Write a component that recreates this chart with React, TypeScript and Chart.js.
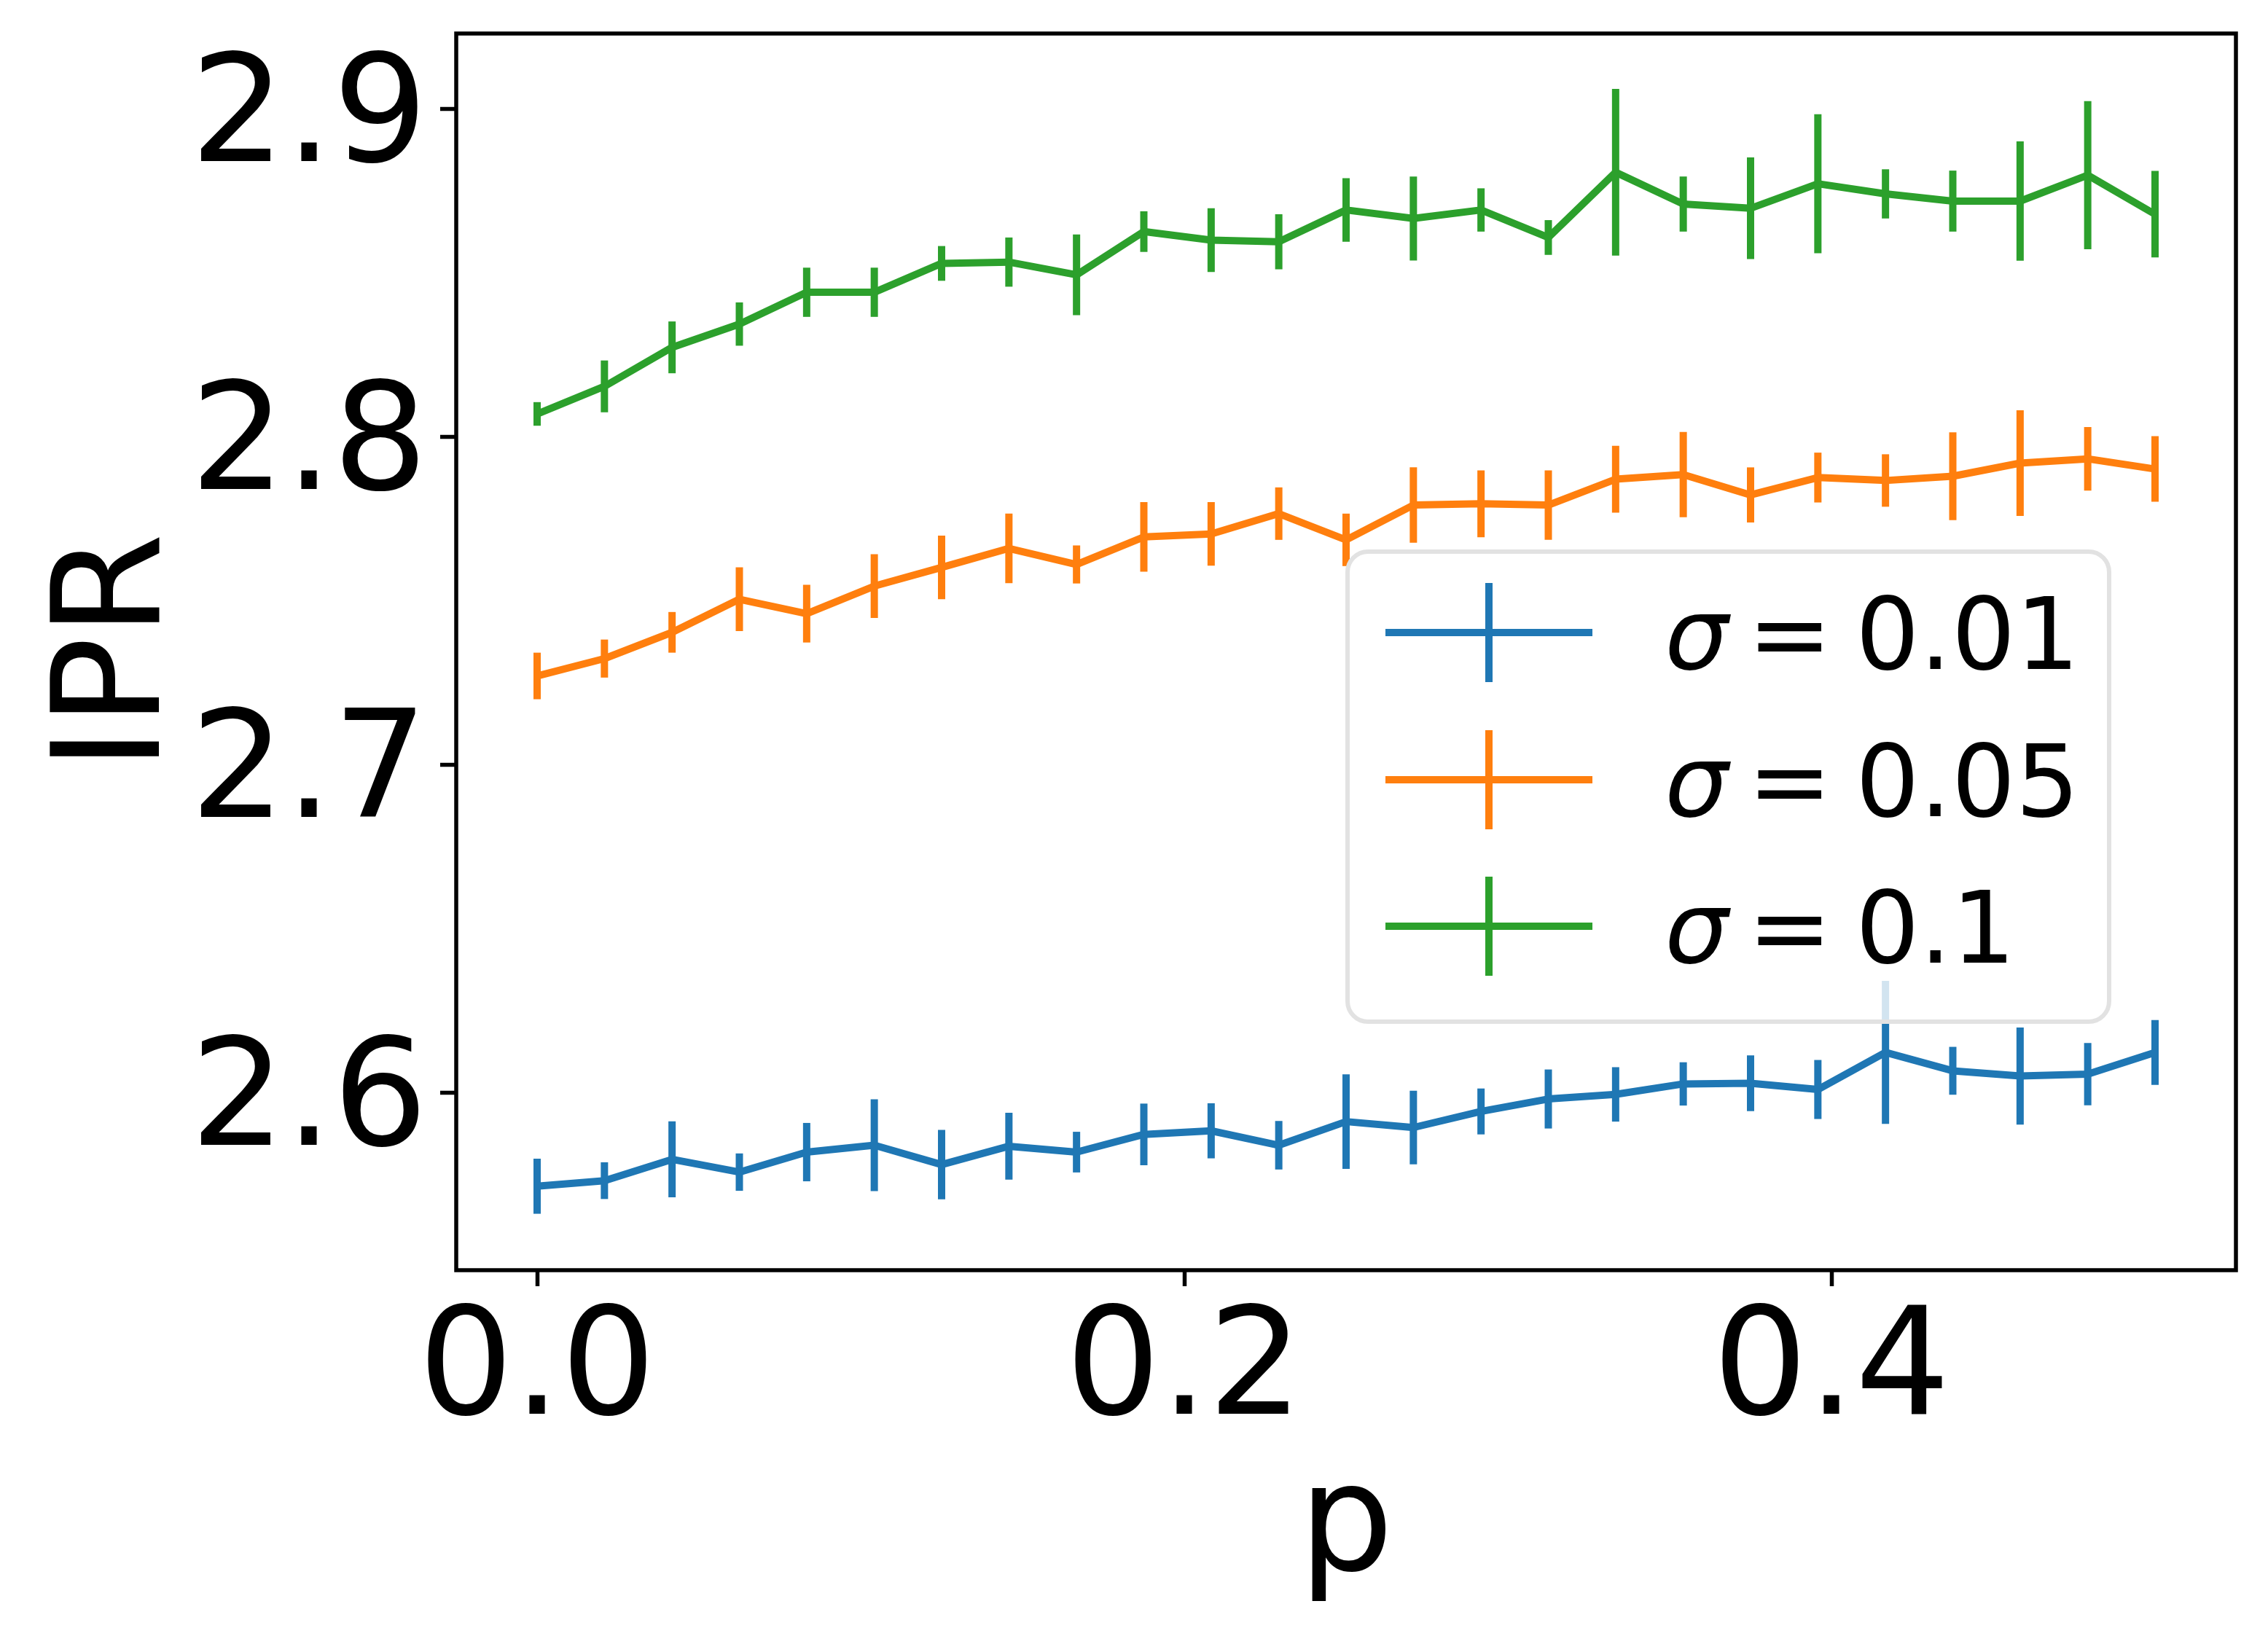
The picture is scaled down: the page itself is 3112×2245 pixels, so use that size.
import React, { useEffect, useRef } from 'react';
import { Chart, registerables } from 'chart.js';

Chart.register(...registerables);

// x values (p)
const pValues = [
  0, 0.0208, 0.0417, 0.0625, 0.0833, 0.1042, 0.125, 0.1458, 0.1667, 0.1875, 0.2083, 0.2292, 0.25,
  0.2708, 0.2917, 0.3125, 0.3333, 0.3542, 0.375, 0.3958, 0.4167, 0.4375, 0.4583, 0.4792, 0.5,
];

// sigma = 0.01
const iprSigma001 = [
  2.5716, 2.5733, 2.5798, 2.5759, 2.582, 2.5841, 2.5782, 2.5838, 2.582, 2.5874, 2.5885, 2.5841, 2.5913,
  2.5895, 2.5944, 2.5982, 2.5996, 2.6028, 2.603, 2.6011, 2.6124, 2.6068, 2.6052, 2.6058, 2.6124,
];
const errSigma001 = [
  0.0084, 0.0056, 0.0116, 0.0057, 0.0089, 0.014, 0.0106, 0.0102, 0.0062, 0.0094, 0.0084, 0.0074, 0.0144,
  0.0112, 0.007, 0.009, 0.0083, 0.0066, 0.0085, 0.009, 0.0218, 0.0073, 0.0148, 0.0095, 0.0099,
];

// sigma = 0.05
const iprSigma005 = [
  2.7272, 2.7325, 2.7405, 2.7506, 2.7462, 2.7546, 2.7603, 2.7661, 2.7612, 2.7696, 2.7705, 2.7767, 2.7687,
  2.7793, 2.7797, 2.7793, 2.7872, 2.7886, 2.7824, 2.7877, 2.7868, 2.7881, 2.7921, 2.7934, 2.7903,
];
const errSigma005 = [
  0.0071, 0.0058, 0.0062, 0.0097, 0.0088, 0.0097, 0.0097, 0.0106, 0.0058, 0.0106, 0.0097, 0.008, 0.008,
  0.0115, 0.0102, 0.0106, 0.0102, 0.013, 0.0084, 0.0076, 0.008, 0.0134, 0.0161, 0.0097, 0.01,
];

// sigma = 0.1
const iprSigma01 = [
  2.8071, 2.8155, 2.8274, 2.8345, 2.8442, 2.8442, 2.853, 2.8534, 2.8495, 2.8627, 2.8601, 2.8596, 2.8693,
  2.8667, 2.8693, 2.8609, 2.8808, 2.8711, 2.8698, 2.8773, 2.8742, 2.872, 2.872, 2.8799, 2.868,
];
const errSigma01 = [
  0.0036, 0.0079, 0.0079, 0.0066, 0.0075, 0.0075, 0.0053, 0.0075, 0.0123, 0.0062, 0.0097, 0.0084, 0.0097,
  0.0128, 0.0066, 0.0053, 0.0254, 0.0084, 0.0155, 0.0212, 0.0075, 0.0093, 0.0182, 0.0226, 0.0132,
];

const seriesLabels = ['0.01', '0.05', '0.1'];
const seriesColors = ['#1f77b4', '#ff7f0e', '#2ca02c'];
const xTicks = [0, 0.2, 0.4];
const yTicks = [2.6, 2.7, 2.8, 2.9];

const FONT = '"DejaVu Sans"';

const errorBarPlugin = {
  id: 'errorBars',
  afterDatasetsDraw(chart: any) {
    const { ctx, scales } = chart;
    ctx.save();
    chart.data.datasets.forEach((ds: any) => {
      ctx.strokeStyle = ds.borderColor;
      ctx.lineWidth = 10;
      ctx.lineCap = 'butt';
      ds.data.forEach((pt: any, i: number) => {
        const e = ds.errors[i];
        const x = scales.x.getPixelForValue(pt.x);
        ctx.beginPath();
        ctx.moveTo(x, scales.y.getPixelForValue(pt.y - e));
        ctx.lineTo(x, scales.y.getPixelForValue(pt.y + e));
        ctx.stroke();
      });
    });
    // axes frame
    const a = chart.chartArea;
    ctx.strokeStyle = '#000';
    ctx.lineWidth = 5.5;
    ctx.strokeRect(a.left, a.top, a.right - a.left, a.bottom - a.top);
    ctx.restore();
  },
};

const legendPlugin = {
  id: 'boxLegend',
  afterDraw(chart: any) {
    const { ctx } = chart;
    const left = 1849, top = 757, right = 2894, bottom = 1402, r = 28;
    ctx.save();
    ctx.beginPath();
    ctx.roundRect(left, top, right - left, bottom - top, r);
    ctx.fillStyle = 'rgba(255,255,255,0.8)';
    ctx.fill();
    ctx.strokeStyle = '#e2e2e2';
    ctx.lineWidth = 6;
    ctx.stroke();

    const rows = [868, 1070, 1271];
    seriesLabels.forEach((lab, i) => {
      const cy = rows[i];
      ctx.strokeStyle = seriesColors[i];
      ctx.lineWidth = 10;
      ctx.lineCap = 'butt';
      ctx.beginPath();
      ctx.moveTo(1901, cy);
      ctx.lineTo(2185, cy);
      ctx.moveTo(2043, cy - 68);
      ctx.lineTo(2043, cy + 68);
      ctx.stroke();

      ctx.fillStyle = '#000';
      ctx.textBaseline = 'alphabetic';
      ctx.textAlign = 'left';
      ctx.font = `italic 138px ${FONT}`;
      ctx.fillText('σ', 2284, cy + 50);
      ctx.font = `138px ${FONT}`;
      ctx.fillText('=', 2398, cy + 50);
      ctx.fillText(lab, 2546, cy + 50);
    });
    ctx.restore();
  },
};

const zeroPadding = (s: any) => {
  s.paddingLeft = 0;
  s.paddingRight = 0;
  s.paddingTop = 0;
  s.paddingBottom = 0;
};

export default function App() {
  const canvasRef = useRef<HTMLCanvasElement>(null);

  useEffect(() => {
    const seriesY = [iprSigma001, iprSigma005, iprSigma01];
    const seriesErr = [errSigma001, errSigma005, errSigma01];

    const chart = new Chart(canvasRef.current as HTMLCanvasElement, {
      type: 'line',
      data: {
        datasets: seriesY.map((vals, s) => ({
          label: `σ = ${seriesLabels[s]}`,
          data: vals.map((v, i) => ({ x: pValues[i], y: v })),
          errors: seriesErr[s],
          borderColor: seriesColors[s],
          backgroundColor: seriesColors[s],
          borderWidth: 10,
          borderJoinStyle: 'round',
          pointRadius: 0,
          tension: 0,
          fill: false,
        })) as any,
      },
      options: {
        animation: false,
        responsive: false,
        devicePixelRatio: 1,
        layout: { padding: { left: 0, top: 46, right: 44, bottom: 0 } },
        plugins: { legend: { display: false }, tooltip: { enabled: false } },
        scales: {
          x: {
            type: 'linear',
            min: -0.025,
            max: 0.525,
            afterBuildTicks: (s: any) => {
              s.ticks = xTicks.map((v) => ({ value: v }));
            },
            afterFit: (s: any) => {
              s.height = 502;
              zeroPadding(s);
            },
            border: { display: false },
            grid: {
              display: true,
              drawOnChartArea: false,
              drawTicks: true,
              tickLength: 22,
              tickWidth: 5.5,
              tickColor: '#000',
            },
            ticks: {
              color: '#000',
              font: { family: FONT, size: 205, lineHeight: 1 },
              padding: 19,
              maxRotation: 0,
              autoSkip: false,
              callback: (v: any) => Number(v).toFixed(1),
            },
            title: {
              display: true,
              text: 'p',
              color: '#000',
              font: { family: FONT, size: 205, lineHeight: 1.2 },
              padding: { top: 0, bottom: 21 },
            },
          },
          y: {
            type: 'linear',
            min: 2.546,
            max: 2.9231,
            afterBuildTicks: (s: any) => {
              s.ticks = yTicks.map((v) => ({ value: v }));
            },
            afterFit: (s: any) => {
              s.width = 626;
              zeroPadding(s);
            },
            border: { display: false },
            grid: {
              display: true,
              drawOnChartArea: false,
              drawTicks: true,
              tickLength: 22,
              tickWidth: 5.5,
              tickColor: '#000',
            },
            ticks: {
              color: '#000',
              font: { family: FONT, size: 205, lineHeight: 1 },
              padding: 17,
              labelOffset: 18,
              autoSkip: false,
              callback: (v: any) => Number(v).toFixed(1),
            },
            title: {
              display: true,
              text: 'IPR',
              color: '#000',
              font: { family: FONT, size: 205, lineHeight: 1.2 },
              padding: { top: 42, bottom: 0 },
            },
          },
        },
      },
      plugins: [errorBarPlugin, legendPlugin],
    });

    return () => {
      chart.destroy();
    };
  }, []);

  return (
    <div style={{ position: 'absolute', left: 0, top: 0, width: 3112, height: 2245, background: '#fff' }}>
      <canvas ref={canvasRef} width={3112} height={2245} style={{ display: 'block', width: 3112, height: 2245 }} />
    </div>
  );
}
